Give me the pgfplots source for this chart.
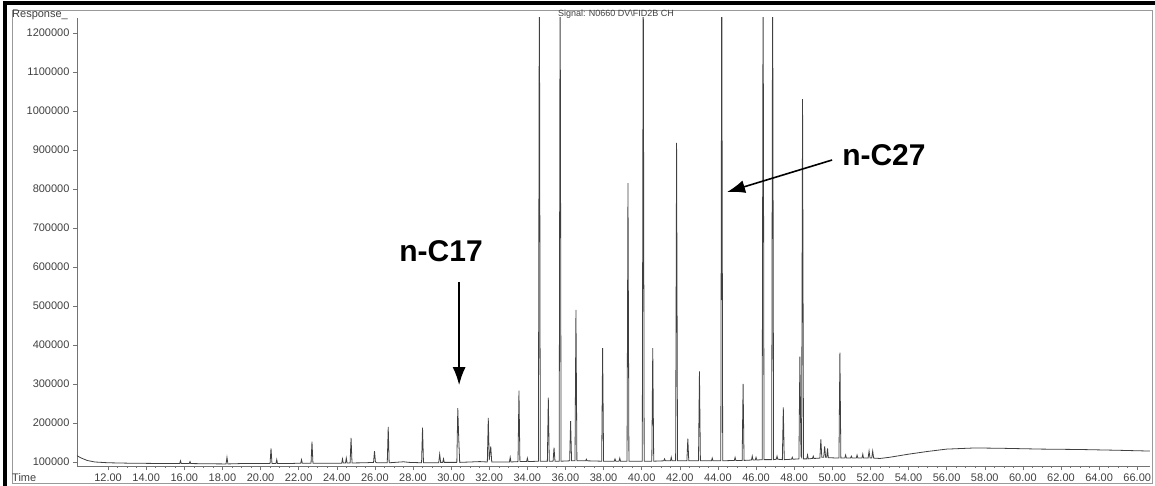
\documentclass[border=0pt]{standalone}
\usepackage{fontspec}
\setmainfont{Liberation Sans}
\usepackage{pgfplots}
\pgfplotsset{compat=1.18}
\usetikzlibrary{arrows.meta}

\pgfplotstableread{
t v
10.37 116000
10.6 110000
10.9 104000
11.3 100000
12.0 98000
13.0 97000
14.0 96500
15.0 96000
15.76 96000
15.8 103000
15.84 96000
16.26 96000
16.3 101000
16.34 96000
17.0 95500
18.19 95000
18.24 112000
18.29 95000
19.0 96000
20.0 96000
20.5 96000
20.55 135000
20.6 96000
20.81 96000
20.85 106000
20.89 96000
21.5 96000
22.11 97000
22.15 106000
22.19 97000
22.65 97000
22.7 152000
22.75 97000
23.5 97000
24.26 97000
24.3 108000
24.34 97500
24.46 97500
24.5 110000
24.54 97500
24.7 97500
24.75 162000
24.8 97500
25.5 98000
25.93 99000
25.98 128000
26.03 100000
26.1 98000
26.65 98000
26.7 190000
26.75 98000
27.2 99500
27.5 100500
27.8 99000
28.45 98000
28.5 188000
28.55 98000
29.35 98000
29.4 120000
29.45 99000
29.56 99000
29.6 108000
29.64 99000
30.3 99000
30.35 238000
30.4 160000
30.45 99000
31.0 100000
31.5 101000
31.9 100000
31.95 213000
32.0 105000
32.08 140000
32.13 100000
32.6 100000
33.06 100000
33.1 112000
33.14 100000
33.51 101000
33.56 283000
33.61 101000
33.96 101000
34.0 110000
34.04 101000
34.58 102000
34.63 1400000
34.68 102000
35.05 102000
35.1 265000
35.15 102000
35.35 102000
35.4 137000
35.45 102000
35.67 102000
35.72 1400000
35.77 102000
36.22 103000
36.27 205000
36.32 103000
36.5 103000
36.55 490000
36.6 103000
37.06 103000
37.1 107000
37.14 103000
37.9 102000
37.95 392000
38.0 102000
38.56 102000
38.6 108000
38.64 102000
38.81 102000
38.85 110000
38.89 102000
39.23 102000
39.28 815000
39.33 102000
40.03 102000
40.08 1400000
40.13 102000
40.53 102000
40.58 392000
40.63 102000
41.16 103000
41.2 108000
41.24 103000
41.51 103000
41.55 112000
41.59 103000
41.78 103000
41.83 918000
41.88 103000
42.37 103000
42.42 160000
42.47 103000
42.98 103000
43.03 332000
43.08 103000
43.66 103000
43.7 110000
43.74 103000
44.15 103000
44.2 1400000
44.25 103000
44.86 104000
44.9 112000
44.94 104000
45.27 104000
45.32 300000
45.37 104000
45.76 105000
45.8 115000
45.84 105000
45.96 105000
46.0 112000
46.04 105000
46.32 106000
46.37 1400000
46.42 106000
46.82 106000
46.87 1400000
46.92 106000
47.06 107000
47.1 115000
47.14 107000
47.38 106000
47.43 240000
47.48 106000
47.86 107000
47.9 112000
47.94 107000
48.25 108000
48.3 370000
48.36 115000
48.39 112000
48.44 1030000
48.49 108000
48.66 108000
48.7 118000
48.74 108000
48.96 109000
49.0 115000
49.04 109000
49.35 110000
49.4 158000
49.45 112000
49.55 112000
49.6 140000
49.65 112000
49.71 112000
49.75 135000
49.79 111000
50.35 110000
50.4 380000
50.45 110000
50.66 110000
50.7 118000
50.74 110000
50.96 110000
51.0 115000
51.04 110000
51.26 110000
51.3 118000
51.34 110000
51.56 110000
51.6 120000
51.64 110000
51.88 110000
51.93 128000
51.98 110000
52.07 110000
52.12 128000
52.17 110000
52.5 109000
53.0 112000
54.0 120000
55.0 127000
56.0 133000
57.5 136000
59.0 135000
61.0 133000
63.0 132000
65.0 130000
66.67 128000
}\chrom

\begin{document}
\begin{tikzpicture}
\useasboundingbox (-77pt,-19pt) rectangle (1078pt,466pt);
\begin{axis}[
    at={(0pt,0pt)}, anchor=south west,
    scale only axis, width=1073pt, height=448pt,
    xmin=10.37, xmax=66.67, ymin=89700, ymax=1238000,
    axis x line=bottom, axis y line=left,
    axis line style={-, draw=black!55, line width=0.6pt},
    xtick={12,14,...,66}, minor x tick num=3,
    ytick={100000,200000,...,1200000},
    scaled y ticks=false,
    tick align=outside, major tick length=4pt, minor tick length=2pt,
    tick style={draw=black!55, line width=0.5pt},
    /pgf/number format/assume math mode=true,
    tick label style={font=\fontsize{11}{13}\selectfont, text=black!75},
    xticklabel style={/pgf/number format/.cd, fixed, fixed zerofill, precision=2, 1000 sep={}},
    yticklabel style={/pgf/number format/.cd, fixed, 1000 sep={}},
]
  \addplot[black!75, line width=0.8pt, mark=none] table[x=t, y=v] {\chrom};
  % annotations
  \node[font=\fontsize{30}{36}\selectfont\bfseries] at (axis cs:29.47,641000) {n-C17};
  \draw[-{Latex[length=18pt,width=13pt]}, line width=1.6pt]
    (axis cs:30.42,561500) -- (axis cs:30.42,297000);
  \node[font=\fontsize{30}{36}\selectfont\bfseries] at (axis cs:52.71,887000) {n-C27};
  \draw[-{Latex[length=18pt,width=13pt]}, line width=1.6pt]
    (axis cs:49.99,874000) -- (axis cs:44.48,792000);
\end{axis}
% window frame
\draw[black!40, line width=0.6pt] (-65pt,-17pt) rectangle (1075pt,456pt);
\draw[black, line width=4pt] (-72pt,-25pt) -- (-72pt,462.5pt) -- (1085pt,462.5pt);
\node[anchor=west, font=\fontsize{11}{13}\selectfont, text=black!75, inner sep=0pt] at (-65pt,451pt) {Response\_};
\node[anchor=west, font=\fontsize{11}{13}\selectfont, text=black!75, inner sep=0pt] at (-65pt,-12pt) {Time};
\node[font=\fontsize{9}{11}\selectfont, text=black!75, inner sep=0pt] at (539pt,452pt) {Signal: N0660 DV\textbackslash FID2B CH};
\end{tikzpicture}
\end{document}
